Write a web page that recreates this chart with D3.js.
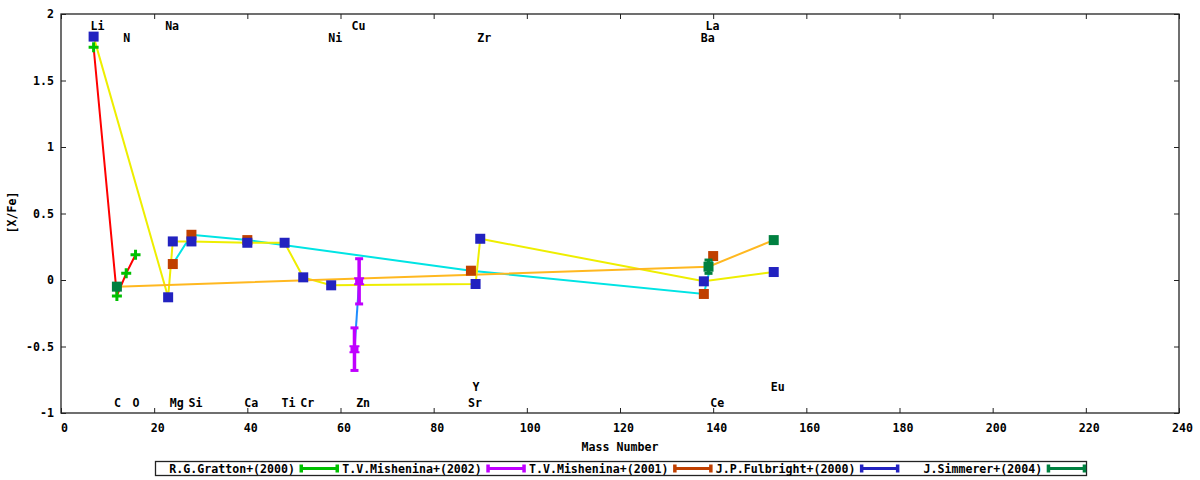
<!DOCTYPE html>
<html>
<head>
<meta charset="utf-8">
<script src="https://cdn.jsdelivr.net/npm/d3@7/dist/d3.min.js"></script>
<style>
  body { margin: 0; background: #fff; }
  svg text { font-family: "DejaVu Sans Mono", monospace; font-weight: bold; font-size: 11.6px; fill: #000; }
</style>
</head>
<body>
<div id="chart"></div>
<script>
// [X/Fe] vs mass number

// R.G.Gratton+(2000)
const grattonMass = [7, 12, 14, 16];
const grattonXFe  = [1.75, -0.12, 0.05, 0.19];

// T.V.Mishenina+(2002)
const mish02Mass = [63, 64];
const mish02XFe  = [-0.52, -0.01];
const mish02Err  = [0.16, 0.17];

// T.V.Mishenina+(2001)
const mish01Mass = [24, 28, 40, 88, 138, 140];
const mish01XFe  = [0.12, 0.34, 0.30, 0.07, -0.105, 0.18];

// J.P.Fulbright+(2000)
const fulbMass = [7, 23, 24, 28, 40, 48, 52, 58, 89, 90, 138, 153];
const fulbXFe  = [1.83, -0.13, 0.29, 0.29, 0.28, 0.28, 0.02, -0.04, -0.03, 0.31, -0.01, 0.06];

// J.Simmerer+(2004)
const simMass = [12, 139, 153];
const simXFe  = [-0.05, 0.10, 0.30];
const simErr  = [0, 0.05, 0];

// element labels (mass number, [X/Fe] level of the label)
const labelElem  = ["Li", "Na", "Cu", "La", "N", "Ni", "Zr", "Ba",
                    "C", "O", "Mg", "Si", "Ca", "Ti", "Cr", "Zn", "Sr", "Ce", "Y", "Eu"];
const labelMass  = [7, 23, 63, 139, 14, 58, 90, 138,
                    12, 16, 24, 28, 40, 48, 52, 64, 88, 140, 89, 153];
const labelLevel = [1.91, 1.91, 1.91, 1.91, 1.82, 1.82, 1.82, 1.82,
                    -0.925, -0.925, -0.925, -0.925, -0.925, -0.925, -0.925, -0.925, -0.925, -0.925,
                    -0.805, -0.805];

const xTicks = [0, 20, 40, 60, 80, 100, 120, 140, 160, 180, 200, 220, 240];
const yTicks = [-1, -0.5, 0, 0.5, 1, 1.5, 2];

function rows(mass, xfe, err) {
  return mass.map((m, i) => ({m: m, v: xfe[i], e: err ? err[i] : 0}));
}

const series = [
  {name: "R.G.Gratton+(2000)",   data: rows(grattonMass, grattonXFe), mark: "#00c000", line: "#ff0000", shape: "plus"},
  {name: "T.V.Mishenina+(2002)", data: rows(mish02Mass, mish02XFe, mish02Err), mark: "#c000ff", line: "#1e8cff", shape: "cross"},
  {name: "T.V.Mishenina+(2001)", data: rows(mish01Mass, mish01XFe), mark: "#c04000", line: "#00e4e4", shape: "square"},
  {name: "J.P.Fulbright+(2000)", data: rows(fulbMass, fulbXFe), mark: "#2222c0", line: "#eeee00", shape: "square"},
  {name: "J.Simmerer+(2004)",    data: rows(simMass, simXFe, simErr), mark: "#008040", line: "#ffb820", shape: "square"}
];

const width = 1200, height = 480;
const plot = {left: 61, right: 1179, top: 14, bottom: 413};

const svg = d3.select("#chart").append("svg")
    .attr("width", width)
    .attr("height", height);

const x = d3.scaleLinear().domain([0, 240]).range([plot.left, plot.right]);
const y = d3.scaleLinear().domain([-1, 2]).range([plot.bottom, plot.top]);

// axes, ticks pointing inward like gnuplot
const axisStyle = g => {
  g.select(".domain").remove();
  g.selectAll(".tick line").attr("stroke", "#222").attr("stroke-width", 1);
  g.selectAll(".tick text").attr("font-family", null).attr("font-size", null);
};

svg.append("g")
    .attr("transform", `translate(0,${plot.bottom})`)
    .call(d3.axisBottom(x).tickValues(xTicks).tickSize(-5).tickPadding(11).tickFormat(d => String(d)))
    .call(axisStyle)
    .call(g => g.selectAll(".tick text").attr("dx", 3));

svg.append("g")
    .attr("transform", `translate(0,${plot.top})`)
    .call(d3.axisTop(x).tickValues(xTicks).tickSize(-5).tickFormat(""))
    .call(axisStyle);

svg.append("g")
    .attr("transform", `translate(${plot.left},0)`)
    .call(d3.axisLeft(y).tickValues(yTicks).tickSize(-5).tickPadding(7).tickFormat(d => String(d)))
    .call(axisStyle);

svg.append("g")
    .attr("transform", `translate(${plot.right},0)`)
    .call(d3.axisRight(y).tickValues(yTicks).tickSize(-5).tickFormat(""))
    .call(axisStyle);

svg.append("rect")
    .attr("x", plot.left)
    .attr("y", plot.top)
    .attr("width", plot.right - plot.left)
    .attr("height", plot.bottom - plot.top)
    .attr("fill", "none")
    .attr("stroke", "#222")
    .attr("stroke-width", 1.3);

// axis titles
svg.append("text")
    .attr("x", (plot.left + plot.right) / 2)
    .attr("y", 451)
    .attr("text-anchor", "middle")
    .text("Mass Number");

svg.append("text")
    .attr("transform", `translate(16,${(plot.top + plot.bottom) / 2 - 1}) rotate(-90)`)
    .attr("text-anchor", "middle")
    .text("[X/Fe]");

// element labels
svg.append("g").selectAll("text")
  .data(labelElem)
  .enter().append("text")
    .attr("x", (d, i) => x(labelMass[i]) - 3)
    .attr("y", (d, i) => y(labelLevel[i]))
    .attr("dy", "0.36em")
    .text(d => d);

// connecting lines
const line = d3.line().x(d => x(d.m)).y(d => y(d.v));

svg.append("g").selectAll("path")
  .data(series)
  .enter().append("path")
    .attr("d", d => line(d.data))
    .attr("fill", "none")
    .attr("stroke", d => d.line)
    .attr("stroke-width", 2);

// marker shapes
function drawMarker(g, shape, color) {
  if (shape === "square") {
    g.append("rect").attr("x", -5).attr("y", -5).attr("width", 10).attr("height", 10).attr("fill", color);
  } else if (shape === "plus") {
    g.append("path").attr("d", "M-5,-1.5H-1.5V-5H1.5V-1.5H5V1.5H1.5V5H-1.5V1.5H-5Z").attr("fill", color);
  } else {
    g.append("path").attr("d", "M-5,-4H5V-2H4V2H5V4H-5V2H-4V-2H-5Z").attr("fill", color);
  }
}

series.forEach(s => {
  const g = svg.append("g");

  // error bars
  g.selectAll(".err")
    .data(s.data.filter(d => d.e > 0))
    .enter().append("path")
      .attr("class", "err")
      .attr("d", d => {
        const cx = x(d.m), y0 = y(d.v - d.e), y1 = y(d.v + d.e);
        return `M${cx},${y0}V${y1}`;
      })
      .attr("stroke", s.mark)
      .attr("stroke-width", 3.5)
      .attr("fill", "none");

  g.selectAll(".cap")
    .data(s.data.filter(d => d.e > 0).flatMap(d => [d.v - d.e, d.v + d.e].map(v => ({m: d.m, v: v}))))
    .enter().append("rect")
      .attr("class", "cap")
      .attr("x", d => x(d.m) - 4)
      .attr("y", d => y(d.v) - 1.5)
      .attr("width", 8)
      .attr("height", 3)
      .attr("fill", s.mark);

  g.selectAll(".pt")
    .data(s.data)
    .enter().append("g")
      .attr("class", "pt")
      .attr("transform", d => `translate(${x(d.m)},${y(d.v)})`)
      .each(function() { drawMarker(d3.select(this), s.shape, s.mark); });
});

// legend
const legend = svg.append("g");
legend.append("rect")
    .attr("x", 155.5)
    .attr("y", 461.5)
    .attr("width", 931)
    .attr("height", 14)
    .attr("fill", "#fff")
    .attr("stroke", "#222")
    .attr("stroke-width", 1.3);

const colW = 186.8, textEnd0 = 295;
series.forEach((s, i) => {
  const te = textEnd0 + i * colW;
  const yc = 468.5;
  legend.append("text")
      .attr("x", te)
      .attr("y", yc)
      .attr("dy", "0.36em")
      .attr("text-anchor", "end")
      .text(s.name);
  const x0 = te + 6, x1 = te + 42;
  legend.append("path")
      .attr("d", `M${x0},${yc}H${x1}`)
      .attr("stroke", s.mark)
      .attr("stroke-width", 3);
  [x0, x1].forEach(xx => {
    legend.append("rect")
        .attr("x", xx - 1.5)
        .attr("y", yc - 4)
        .attr("width", 3.5)
        .attr("height", 8)
        .attr("fill", s.mark);
  });
});
</script>
</body>
</html>
